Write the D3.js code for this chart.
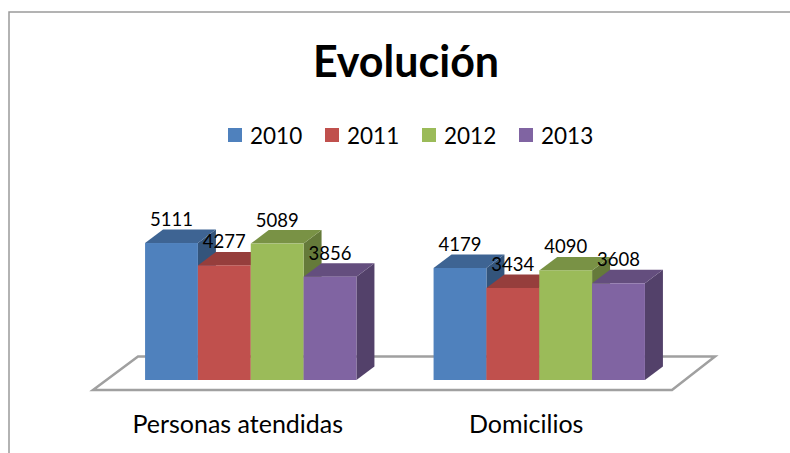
<!DOCTYPE html>
<meta charset="utf-8">
<head>
    <title>Evolución</title>
    <script src="https://d3js.org/d3.v7.min.js"></script>
</head>

<style>
body { margin: 0; background: #fff; }
text { font-family: Lato, "Open Sans", sans-serif; }
</style>

<body>

<svg></svg>

<script>

// data
let categories = ["Personas atendidas", "Domicilios"];
let years = ["2010", "2011", "2012", "2013"];
let values = {
  "2010": [5111, 4179],
  "2011": [4277, 3434],
  "2012": [5089, 4090],
  "2013": [3856, 3608]
};
let colors = ["#4F81BD", "#C0504D", "#9BBB59", "#8064A2"];

let width = 790, height = 453;

// 3d depth offset
let dx = 18, dy = 13.5;
let base = 380;

let svg = d3.select("svg")
    .attr("width", width)
    .attr("height", height);

// frame
svg.append("path")
  .attr("d", "M9," + height + " L9,12 L" + width + ",12")
  .attr("fill", "none")
  .attr("stroke", "#9a9a9a")
  .attr("stroke-width", 1.5);

// title
svg.append("text")
  .attr("x", 406)
  .attr("y", 77)
  .attr("text-anchor", "middle")
  .style("font-size", "43px")
  .style("font-weight", "bold")
  .text("Evolución");

// legend
let legend = svg.selectAll(".legend")
    .data(years)
    .enter().append("g")
    .attr("class", "legend")
    .attr("transform", (d, i) => "translate(" + (228 + i * 97) + ",128)");

legend.append("rect")
  .attr("width", 14)
  .attr("height", 14)
  .attr("fill", (d, i) => colors[i]);

legend.append("text")
  .attr("x", 22)
  .attr("y", 15.5)
  .style("font-size", "22.5px")
  .text(d => d);

// scales
let x0 = d3.scaleBand()
    .domain(categories)
    .range([106.5, 683.5]);

let x1 = d3.scaleBand()
    .domain(years)
    .range([0, x0.bandwidth()])
    .paddingOuter(0.73);

let y = d3.scaleLinear()
    .domain([0, 6000])
    .range([base, base - 6000 * 0.0268]);

// floor
let fl = x0.range();
let backY = base - dy * 1.74, frontY = base + 10;
svg.append("path")
  .attr("d", "M" + (fl[0] + 31.5) + "," + backY +
             " L" + (fl[1] + 31.5) + "," + backY +
             " L" + (fl[1] - 11.5) + "," + frontY +
             " L" + (fl[0] - 13.5) + "," + frontY + " Z")
  .attr("fill", "#fff")
  .attr("stroke", "#a0a0a0")
  .attr("stroke-width", 2.5)
  .attr("stroke-linejoin", "miter");

// bars, drawn left to right so later faces cover earlier sides
let bars = [];
categories.forEach((c, ci) => {
  years.forEach((yr, yi) => {
    bars.push({cat: c, year: yr, value: values[yr][ci], color: colors[yi]});
  });
});

let g = svg.selectAll(".bar")
    .data(bars)
    .enter().append("g")
    .attr("class", "bar");

function xl(d) { return x0(d.cat) + x1(d.year); }
function xr(d) { return xl(d) + x1.bandwidth(); }

// side face
g.append("path")
  .attr("d", d => "M" + xr(d) + "," + y(d.value) +
                  " L" + (xr(d) + dx) + "," + (y(d.value) - dy) +
                  " L" + (xr(d) + dx) + "," + (base - dy) +
                  " L" + xr(d) + "," + base + " Z")
  .attr("fill", d => d3.color(d.color).darker(1.2));

// top face
g.append("path")
  .attr("d", d => "M" + xl(d) + "," + y(d.value) +
                  " L" + (xl(d) + dx) + "," + (y(d.value) - dy) +
                  " L" + (xr(d) + dx) + "," + (y(d.value) - dy) +
                  " L" + xr(d) + "," + y(d.value) + " Z")
  .attr("fill", d => d3.color(d.color).darker(0.7));

// front face
g.append("rect")
  .attr("x", d => xl(d))
  .attr("y", d => y(d.value))
  .attr("width", x1.bandwidth())
  .attr("height", d => base - y(d.value))
  .attr("fill", d => d.color);

// value labels
svg.selectAll(".label")
  .data(bars)
  .enter().append("text")
  .attr("class", "label")
  .attr("x", d => xl(d) + x1.bandwidth() / 2)
  .attr("y", d => y(d.value) - dy - 3.5)
  .attr("text-anchor", "middle")
  .style("font-size", "18.5px")
  .text(d => d.value);

// category labels
svg.selectAll(".cat")
  .data(categories)
  .enter().append("text")
  .attr("class", "cat")
  .attr("x", d => x0(d) + x0.bandwidth() / 2 - 13)
  .attr("y", 433)
  .attr("text-anchor", "middle")
  .style("font-size", "25px")
  .text(d => d);

</script>

</body>
